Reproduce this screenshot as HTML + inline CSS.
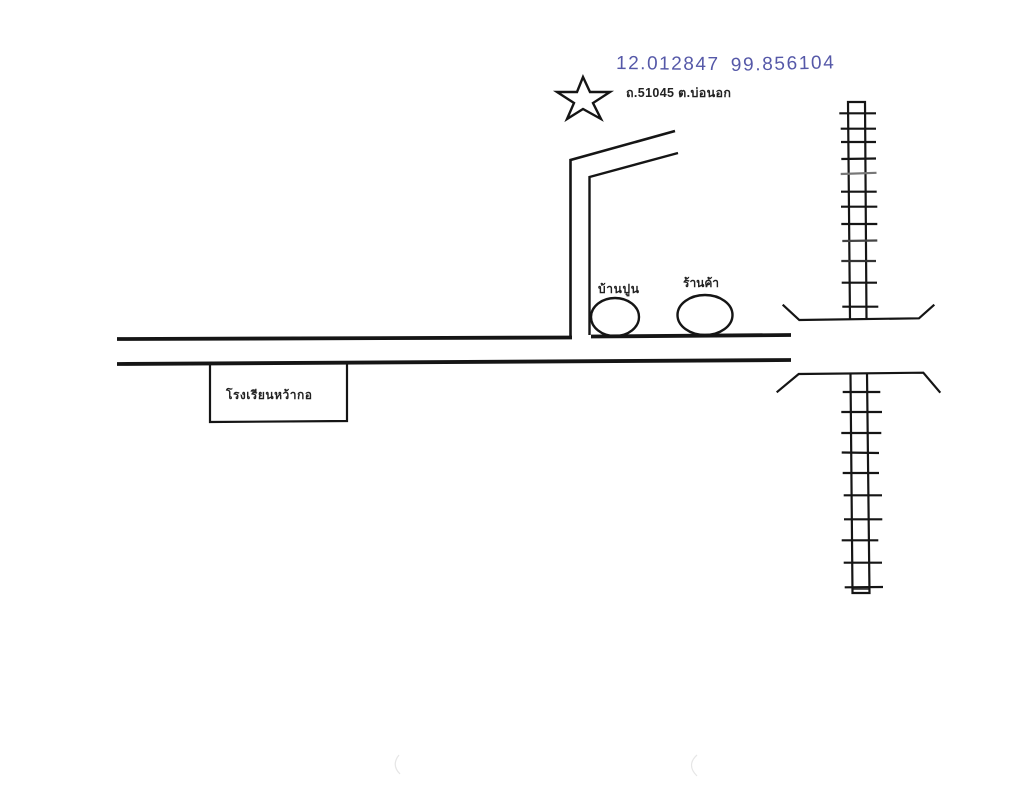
<!DOCTYPE html>
<html lang="th">
<head>
<meta charset="utf-8">
<title>แผนที่</title>
<style>
html,body{margin:0;padding:0;background:#fff;width:1033px;height:800px;overflow:hidden}
svg{display:block}
text{font-family:"Liberation Sans","Noto Sans CJK JP","DejaVu Sans",sans-serif;font-weight:bold;fill:#222}
.hw{font-family:"Liberation Sans",sans-serif;font-weight:normal;fill:#5558a8}
.l{stroke:#151515;fill:none;stroke-linejoin:miter}
</style>
</head>
<body>
<svg width="1033" height="800" viewBox="0 0 1033 800" xmlns="http://www.w3.org/2000/svg">
<rect width="1033" height="800" fill="#fff"/>

<!-- handwritten coordinates -->
<text class="hw" x="616" y="69" font-size="19" textLength="102" lengthAdjust="spacing" transform="rotate(0.6 616 69)">12.012847</text>
<text class="hw" x="731" y="71" font-size="19" textLength="103" lengthAdjust="spacing" transform="rotate(-1.5 731 71)">99.856104</text>

<!-- star -->
<polygon class="l" stroke-width="2.4" points="583,77 590,92 610,92 593,103 601,119 583,109 567,119 574,103 557,92 577,92"/>
<text x="626" y="97" font-size="12.5" textLength="105" lengthAdjust="spacing">ถ.51045 ต.บ่อนอก</text>

<!-- side road -->
<polyline class="l" stroke-width="2.6" points="570.5,338 570.5,160 675,131"/>
<polyline class="l" stroke-width="2.4" points="589.5,335 589.5,177 678,153"/>

<!-- main road -->
<line class="l" stroke-width="3.8" x1="117" y1="339" x2="572" y2="337.5"/>
<line class="l" stroke-width="3.8" x1="591" y1="336.5" x2="791" y2="335"/>
<line class="l" stroke-width="3.8" x1="117" y1="364" x2="791" y2="360"/>

<!-- shops -->
<ellipse class="l" stroke-width="2.4" cx="615" cy="317" rx="24" ry="19"/>
<ellipse class="l" stroke-width="2.4" cx="705" cy="315" rx="27.5" ry="20"/>
<text x="598" y="293" font-size="12" textLength="41" lengthAdjust="spacing">บ้านปูน</text>
<text x="683" y="287" font-size="12" textLength="36" lengthAdjust="spacing">ร้านค้า</text>

<!-- school -->
<polyline class="l" stroke-width="2.2" points="210,364 210,422 347,421 347,363"/>
<text x="226" y="399" font-size="12" textLength="86" lengthAdjust="spacing">โรงเรียนหว้ากอ</text>

<!-- upper rail -->
<g class="l" stroke-width="2.2">
<polyline points="850,320 848,102 865,102 866.5,319"/>
<polyline points="782.7,304.7 799.3,320 919,318.3 934.3,304.7"/>
<line x1="839.3" y1="113.3" x2="876" y2="113.3"/>
<line x1="840.7" y1="128.7" x2="876" y2="128.7"/>
<line x1="841" y1="142" x2="876" y2="142"/>
<line x1="841.3" y1="159" x2="876" y2="158.5"/>
<line x1="840.7" y1="174" x2="876.5" y2="172.8" stroke="#777"/>
<line x1="841" y1="191.7" x2="876.7" y2="191.7"/>
<line x1="841" y1="206.7" x2="877.3" y2="206.7"/>
<line x1="841.3" y1="224" x2="877.3" y2="224"/>
<line x1="842.3" y1="241" x2="877.3" y2="240.5" stroke="#444"/>
<line x1="841.3" y1="261" x2="876" y2="261" stroke="#333"/>
<line x1="841.7" y1="282.7" x2="877" y2="282.7"/>
<line x1="842.3" y1="306.7" x2="878.3" y2="306.7"/>
</g>

<!-- lower rail -->
<g class="l" stroke-width="2.2">
<polyline points="850.5,374 852.5,593 869.5,593 867,373"/>
<line x1="853" y1="589" x2="869" y2="589" stroke-width="1.4"/>
<polyline points="776.7,392.3 798.7,374 923.3,372.7 940.3,392.7"/>
<line x1="842.7" y1="392" x2="880.3" y2="392"/>
<line x1="841.3" y1="412" x2="882" y2="412"/>
<line x1="841.3" y1="433" x2="881.3" y2="433"/>
<line x1="841.7" y1="452.5" x2="879" y2="453"/>
<line x1="842.7" y1="473" x2="879" y2="473"/>
<line x1="843.7" y1="495.3" x2="882" y2="495.3"/>
<line x1="844" y1="519.3" x2="882.3" y2="519.3"/>
<line x1="841.7" y1="540.3" x2="878.3" y2="540.3"/>
<line x1="843.7" y1="562.7" x2="882" y2="562.7"/>
<line x1="844.7" y1="587.3" x2="883" y2="587"/>
</g>

<!-- scan marks -->
<path d="M399,755 Q391,765 400,774" fill="none" stroke="#e6e6e6" stroke-width="1.2"/>
<path d="M697,755 Q686,765 697,776" fill="none" stroke="#e6e6e6" stroke-width="1.2"/>
</svg>
</body>
</html>
